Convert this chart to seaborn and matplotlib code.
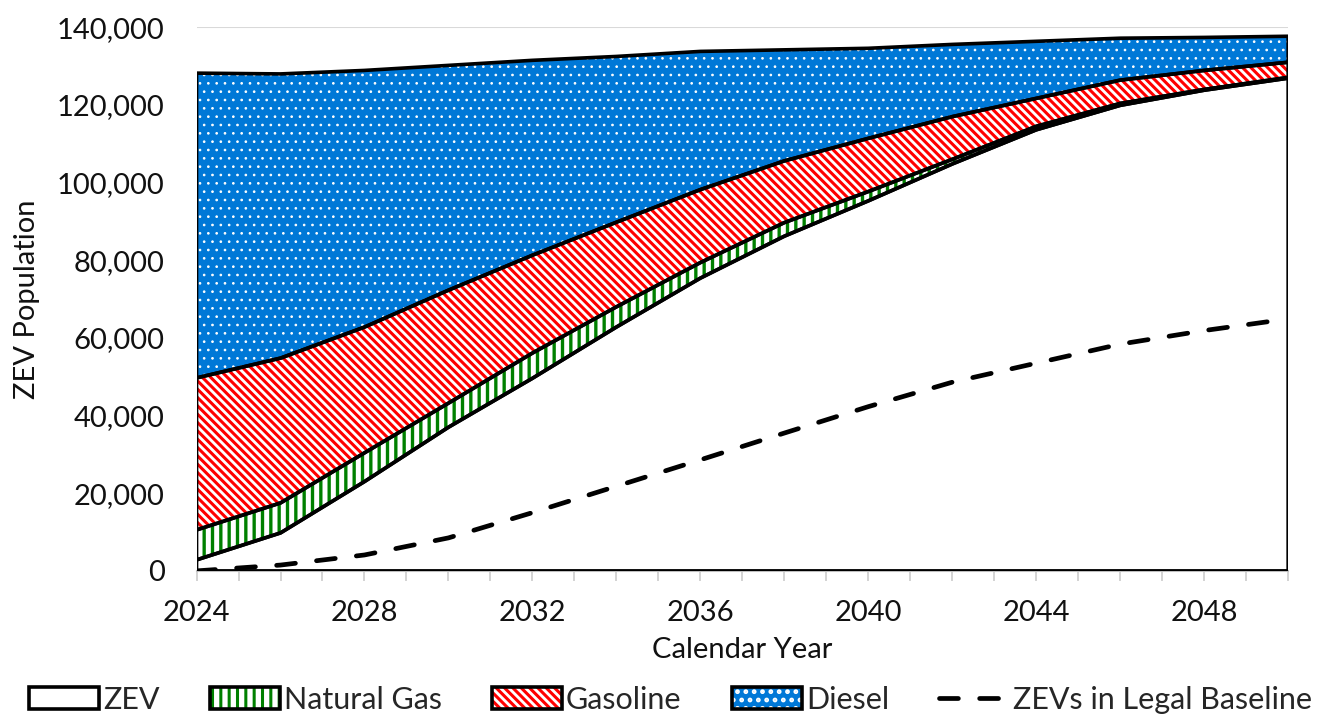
import matplotlib
matplotlib.use("Agg")
import numpy as np
import pandas as pd
import matplotlib.pyplot as plt
import seaborn as sns
from matplotlib.patches import Patch
from matplotlib.lines import Line2D
from matplotlib.legend_handler import HandlerTuple
from matplotlib.ticker import FuncFormatter, MultipleLocator

# values (vehicle population per fuel, stacked)
years = [2024, 2026, 2028, 2030, 2032, 2034, 2036, 2038, 2040, 2042, 2044, 2046, 2048, 2050]
zev = [2830, 9780, 23000, 37000, 49600, 62800, 75400, 86200, 95300, 104800, 113600, 119900, 123800, 126900]
natural_gas = [7720, 7720, 7400, 6200, 6500, 5200, 4000, 3500, 2400, 1200, 900, 500, 200, 200]
gasoline = [39150, 37300, 32400, 29100, 25200, 21800, 18800, 15900, 13700, 11000, 7200, 6000, 4900, 3900]
diesel = [78500, 73200, 66100, 57900, 50200, 42700, 35600, 28600, 23200, 18600, 14700, 10800, 8500, 6700]
legal_baseline = [0, 1500, 4100, 8500, 15000, 21800, 28600, 35500, 42300, 48600, 53500, 58400, 61900, 64900]

series_names = ["ZEV", "Natural Gas", "Gasoline", "Diesel"]
face_colors = ["white", "white", "white", "#0078D7"]
hatch_colors = ["white", "#008000", "#FF0000", "white"]
hatches = [None, "||", "\\\\\\\\", ".."]
hatch_widths = [1.0, 2.4, 2.2, 0.7]

sns.set_theme(style="white")
plt.rcParams['font.family'] = ['Lato', 'DejaVu Sans']
plt.rcParams['hatch.linewidth'] = 2.2

fig, ax = plt.subplots(figsize=(13.28, 7.19), dpi=100)
fig.subplots_adjust(left=0.148, right=0.970, bottom=0.206, top=0.962)

x = np.array(years)
lower = np.zeros(len(years))
handles = []
for name, vals, fc, hc, h, hw in zip(series_names, [zev, natural_gas, gasoline, diesel],
                                     face_colors, hatch_colors, hatches, hatch_widths):
    upper = lower + np.array(vals)
    fill = ax.fill_between(x, lower, upper, facecolor=fc, edgecolor=hc, hatch=h, linewidth=0, zorder=2)
    patch = Patch(facecolor=fc, edgecolor=hc, hatch=h, linewidth=0)
    if hasattr(fill, "set_hatch_linewidth"):
        fill.set_hatch_linewidth(hw)
    if hasattr(patch, "set_hatch_linewidth"):
        patch.set_hatch_linewidth(hw)
    ax.fill_between(x, lower, upper, facecolor="none", edgecolor="black", linewidth=2.6,
                    joinstyle="round", zorder=3)
    handles.append((patch, Patch(facecolor="none", edgecolor="black", linewidth=2.6)))
    lower = upper

df = pd.DataFrame({"year": years, "baseline": legal_baseline})
sns.lineplot(data=df, x="year", y="baseline", ax=ax, color="black", linewidth=3.4, zorder=4)
base_line = ax.lines[-1]
base_line.set_dashes((4, 4.5))
base_line.set_dash_capstyle("round")

ax.set_xlim(2024, 2050)
ax.set_ylim(0, 140000)
ax.set_xticks(range(2024, 2051, 4))
ax.xaxis.set_minor_locator(MultipleLocator(1))
ax.set_yticks(range(0, 140001, 20000))
ax.yaxis.set_major_formatter(FuncFormatter(lambda v, p: f"{int(v):,}"))

ax.yaxis.grid(True, color="#D9D9D9", linewidth=1.5)
ax.set_axisbelow(True)
for s in ["left", "right", "top"]:
    ax.spines[s].set_visible(False)
ax.spines["bottom"].set_color("#BFBFBF")
ax.spines["bottom"].set_linewidth(1.5)

ax.tick_params(axis="x", which="both", bottom=True, length=7, width=1.3, color="#D0D0D0",
               labelsize=21, pad=14, labelcolor="#111111")
ax.tick_params(axis="y", left=False, labelsize=21, pad=17, labelcolor="#111111")

ax.set_xlabel("Calendar Year", fontsize=21, labelpad=8, color="#111111")
ax.set_ylabel("ZEV Population", fontsize=21, labelpad=12, color="#111111")

dash_handle = Line2D([0], [0], color="black", linewidth=3.4, dashes=(4, 4.5),
                     dash_capstyle="round")
fig.legend(handles + [dash_handle], series_names + ["ZEVs in Legal Baseline"],
           handler_map={tuple: HandlerTuple(ndivide=1, pad=0)},
           loc="center", bbox_to_anchor=(0.505, 0.027), ncol=5, frameon=False,
           fontsize=22, handlelength=2.3, handleheight=0.7, handletextpad=0.12,
           columnspacing=1.65)

fig.savefig("out.png", dpi=100)
